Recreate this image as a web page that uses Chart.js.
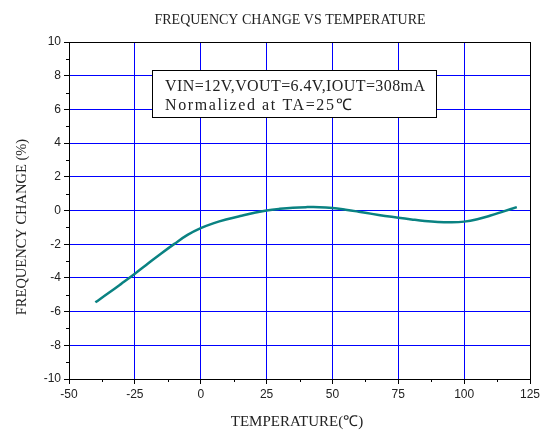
<!DOCTYPE html>
<html>
<head>
<meta charset="utf-8">
<script src="https://cdn.jsdelivr.net/npm/chart.js@4/dist/chart.umd.min.js"></script>
<style>
  html, body { margin: 0; padding: 0; background: #fff; }
  #wrap { width: 545px; height: 432px; }
</style>
</head>
<body>
<div id="wrap"><canvas id="c" width="545" height="432"></canvas></div>
<script>
// ---- data ----
const temperatures = [-40,-35,-30,-25,-20,-15,-10,-5,0,5,10,15,20,25,30,35,40,45,50,55,60,65,70,75,80,85,90,95,100,105,110,115,120];
const freqChange = [-5.45,-4.9,-4.33,-3.75,-3.15,-2.55,-1.98,-1.45,-1.05,-0.75,-0.52,-0.33,-0.15,0,0.1,0.17,0.2,0.2,0.15,0.05,-0.07,-0.2,-0.32,-0.43,-0.53,-0.62,-0.68,-0.7,-0.66,-0.52,-0.3,-0.05,0.2];
const xRange = [-50, 125];
const yRange = [-10, 10];
const xStep = 25;
const yStep = 2;
const chartTitle = 'FREQUENCY CHANGE VS TEMPERATURE';
const xTitle = 'TEMPERATURE(℃)';
const yTitle = 'FREQUENCY CHANGE (%)';
const noteLines = ['VIN=12V,VOUT=6.4V,IOUT=308mA', 'Normalized at TA=25℃'];

const extras = {
  id: 'extras',
  afterDraw(chart) {
    const {ctx, chartArea: a, scales: {x, y}} = chart;
    ctx.save();
    ctx.strokeStyle = '#000';
    ctx.lineWidth = 1;
    // minor ticks
    ctx.beginPath();
    for (let v = xRange[0] + xStep / 2; v < xRange[1]; v += xStep) {
      const px = Math.round(x.getPixelForValue(v)) + 0.5;
      ctx.moveTo(px, a.bottom); ctx.lineTo(px, a.bottom + 3);
    }
    for (let v = yRange[0] + yStep / 2; v < yRange[1]; v += yStep) {
      const py = Math.round(y.getPixelForValue(v)) + 0.5;
      ctx.moveTo(a.left, py); ctx.lineTo(a.left - 3, py);
    }
    ctx.stroke();
    // frame
    ctx.strokeRect(Math.round(a.left) + 0.5, Math.round(a.top) + 0.5, Math.round(a.right - a.left), Math.round(a.bottom - a.top));
    // titles
    ctx.fillStyle = '#222';
    ctx.textAlign = 'center';
    ctx.textBaseline = 'middle';
    ctx.font = '14px "Liberation Serif"';
    ctx.fillText(chartTitle, 290, 20);
    ctx.font = '15px "Liberation Serif"';
    ctx.fillText(xTitle, 297, 422);
    ctx.save();
    ctx.translate(22, 227);
    ctx.rotate(-Math.PI / 2);
    ctx.font = '14.5px "Liberation Serif"';
    ctx.fillText(yTitle, 0, 0);
    ctx.restore();
    // note box
    const bx = a.left + 83, by = a.top + 28, bw = 284, bh = 47;
    ctx.fillStyle = '#fff';
    ctx.fillRect(bx, by, bw, bh);
    ctx.strokeRect(Math.round(bx) + 0.5, Math.round(by) + 0.5, bw, bh);
    ctx.fillStyle = '#222';
    ctx.textAlign = 'left';
    ctx.textBaseline = 'alphabetic';
    ctx.font = '16px "Liberation Serif"';
    ctx.letterSpacing = '0.4px';
    ctx.fillText(noteLines[0], bx + 13, by + 21);
    ctx.letterSpacing = '1.6px';
    ctx.fillText(noteLines[1], bx + 13, by + 40);
    ctx.letterSpacing = '0px';
    ctx.restore();
  }
};

new Chart(document.getElementById('c'), {
  type: 'line',
  data: {
    datasets: [{
      data: temperatures.map((t, i) => ({x: t, y: freqChange[i]})),
      borderColor: '#0a8282',
      borderWidth: 2.5,
      pointRadius: 0,
      tension: 0.4,
      fill: false
    }]
  },
  options: {
    responsive: false,
    animation: false,
    layout: { padding: { left: 0, right: 15, top: 42, bottom: 0 } },
    plugins: {
      legend: { display: false },
      tooltip: { enabled: false },
      title: { display: false }
    },
    scales: {
      x: {
        type: 'linear',
        min: xRange[0], max: xRange[1],
        ticks: { stepSize: xStep, color: '#222', font: { family: 'Liberation Sans', size: 12 }, padding: 3, maxRotation: 0 },
        grid: { color: '#0000ff', lineWidth: 1, tickColor: '#000', tickLength: 5 },
        border: { color: '#000', width: 1 },
        title: { display: false },
        afterFit: s => { s.height = 53; }
      },
      y: {
        min: yRange[0], max: yRange[1],
        ticks: { stepSize: yStep, color: '#222', font: { family: 'Liberation Sans', size: 12 }, padding: 3 },
        grid: { color: '#0000ff', lineWidth: 1, tickColor: '#000', tickLength: 5 },
        border: { color: '#000', width: 1 },
        title: { display: false },
        afterFit: s => { s.width = 69; }
      }
    }
  },
  plugins: [extras]
});
</script>
</body>
</html>
